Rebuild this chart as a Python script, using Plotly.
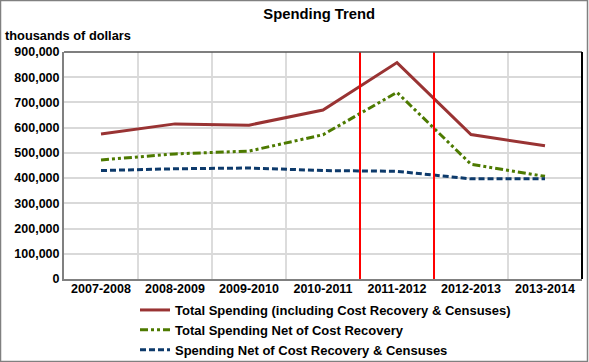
import plotly.graph_objects as go

years = ["2007-2008", "2008-2009", "2009-2010", "2010-2011", "2011-2012", "2012-2013", "2013-2014"]
total_spending = [575000, 615000, 610000, 670000, 858000, 573000, 528000]
net_cost_recovery = [472000, 496000, 507000, 572000, 740000, 455000, 407000]
net_cost_censuses = [430000, 437000, 440000, 430000, 427000, 397000, 397000]
series_names = [
    "Total Spending (including Cost Recovery & Censuses)",
    "Total Spending Net of Cost Recovery",
    "Spending Net of Cost Recovery & Censuses",
]
x_idx = list(range(len(years)))

FONT = "Arial, Liberation Sans, sans-serif"

fig = go.Figure()
fig.add_trace(go.Scatter(x=x_idx, y=total_spending, mode="lines", name=series_names[0],
                         line=dict(color="#993333", width=3)))
fig.add_trace(go.Scatter(x=x_idx, y=net_cost_recovery, mode="lines", name=series_names[1],
                         line=dict(color="#4d7a00", width=3, dash="8px,3px,3px,3px,3px,3px")))
fig.add_trace(go.Scatter(x=x_idx, y=net_cost_censuses, mode="lines", name=series_names[2],
                         line=dict(color="#0d3a6b", width=3, dash="6px,3px")))

shapes = []
for k in range(1, len(years)):
    b = k - 0.5
    red = k in (4, 5)
    shapes.append(dict(type="line", xref="x", yref="paper", x0=b, x1=b, y0=0, y1=1,
                       line=dict(color="#ff0000" if red else "#d0d0d0", width=2 if red else 1.5),
                       layer="above" if red else "below"))
# top and right borders of the plot area
shapes.append(dict(type="line", xref="paper", yref="paper", x0=0, x1=1, y0=1, y1=1,
                   line=dict(color="#555555", width=1.5)))
shapes.append(dict(type="line", xref="paper", yref="paper", x0=1, x1=1, y0=0, y1=1,
                   line=dict(color="#000000", width=2)))
# outer frame
shapes.append(dict(type="rect", xref="paper", yref="paper",
                   x0=-63.5/518, x1=1 + 5.5/518, y0=-82.5/227, y1=1 + 51.5/227,
                   line=dict(color="#808080", width=1.5)))

fig.update_layout(
    width=589, height=362,
    margin=dict(l=64, r=7, t=52, b=83, autoexpand=False),
    paper_bgcolor="white", plot_bgcolor="white",
    font=dict(family=FONT, size=12.5, color="#000000"),
    title=dict(text="<b>Spending Trend</b>", x=0.542, xanchor="center", y=1 - 14/362, yanchor="middle",
               font=dict(family=FONT, size=14.8, color="#000000")),
    showlegend=True,
    legend=dict(x=(135-64)/518, xanchor="left", y=-(295-279)/227, yanchor="top",
                orientation="v", font=dict(family=FONT, size=13, color="#000000", weight="bold"),
                tracegroupgap=0, itemwidth=30, bgcolor="rgba(0,0,0,0)"),
    shapes=shapes,
    annotations=[dict(text="<b>thousands of dollars</b>", xref="paper", yref="paper",
                      x=-61/518, xanchor="left", y=1 + 16/227, yanchor="middle", showarrow=False,
                      font=dict(family=FONT, size=12.8, color="#000000"))],
)
fig.update_xaxes(range=[-0.5, len(years) - 0.5], tickmode="array", tickvals=x_idx, ticktext=years,
                 showgrid=False, zeroline=False, showline=True, linecolor="#808080", linewidth=2,
                 ticks="", ticklabelstandoff=-3, automargin=False,
                 tickfont=dict(family=FONT, size=12.5, weight="bold"), fixedrange=True)
fig.update_yaxes(range=[0, 900000], dtick=100000, tickformat=",", showgrid=True, gridcolor="#d9d9d9",
                 gridwidth=1.5, zeroline=False, showline=True, linecolor="#808080", linewidth=2,
                 ticks="", automargin=False, tickfont=dict(family=FONT, size=12.5, weight="bold"),
                 fixedrange=True)

fig.write_html("out.html", config={"displayModeBar": False},
               post_script="document.body.style.margin='0';document.body.style.overflow='hidden';")
